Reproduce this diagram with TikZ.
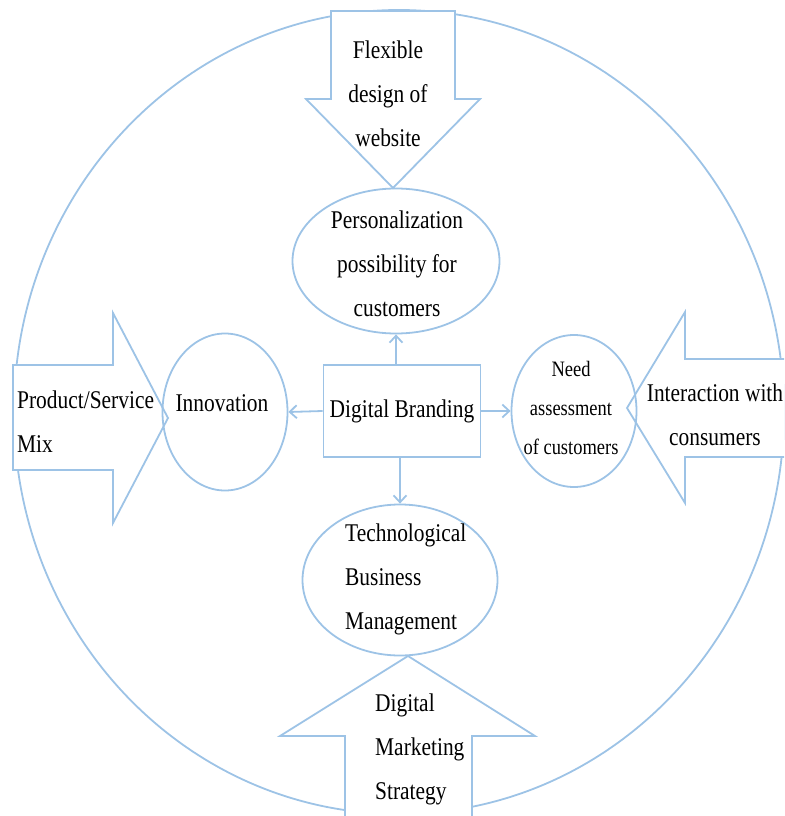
\documentclass[tikz,border=0pt]{standalone}
\usepackage{fontspec}
\setmainfont{Liberation Serif}[FakeStretch=0.84]
\usetikzlibrary{shapes.geometric,arrows.meta}
\definecolor{lineblue}{RGB}{157,195,230}

\begin{document}
\begin{tikzpicture}
    [ x = 1pt, y = -1pt
    , outline/.style =
      { draw = lineblue, line width = 1.8pt }
    , bubble/.style =
      { outline, ellipse, inner sep = 0pt }
    , hub/.style =
      { outline, rectangle, fill = white, inner sep = 0pt
      , minimum width = 157pt, minimum height = 92pt
      , font = \fontsize{25.5}{44}\selectfont }
    , blockarrow/.style =
      { outline, fill = white, line join = miter }
    , link/.style =
      { outline, -{Straight Barb[length=7pt, width=13pt]} }
    , txt/.style =
      { inner sep = 0pt, align = center, font = \fontsize{25.5}{44}\selectfont }
    , small/.style =
      { txt, font = \fontsize{22}{39}\selectfont }
    ]
    \useasboundingbox (0,0) rectangle (784,816);
    \clip (0,0) rectangle (784,816);

    % outer ring
    \draw [outline] (399,412) ellipse [x radius = 385, y radius = 402];

    % block arrows pointing inwards
    \draw [blockarrow] (331,11) -- (455,11) -- (455,99) -- (480,99)
      -- (393,188) -- (306,99) -- (331,99) -- cycle;
    \draw [blockarrow] (13,365) -- (113,365) -- (113,313) -- (168,418)
      -- (113,523) -- (113,470) -- (13,470) -- cycle;
    \draw [blockarrow] (800,359) -- (685,359) -- (685,312) -- (627,408)
      -- (685,503) -- (685,457) -- (800,457) -- cycle;
    \draw [blockarrow] (408,656) -- (535,736) -- (472,736) -- (472,830)
      -- (345,830) -- (345,736) -- (280,736) -- cycle;

    % inner bubbles and the hub
    \node [bubble, minimum width = 207pt, minimum height = 145pt] (pers) at (396,261) {};
    \node [bubble, minimum width = 125pt, minimum height = 157pt] (inno) at (225,412) {};
    \node [bubble, minimum width = 125pt, minimum height = 152pt] (need) at (574,411) {};
    \node [bubble, minimum width = 195pt, minimum height = 151pt] (tech) at (400,580) {};
    \node [hub] (brand) at (402,411) {Digital Branding};

    \draw [link] (brand.north -| pers.south) -- (pers.south);
    \draw [link] (brand.west) -- (inno.east);
    \draw [link] (brand.east) -- (need.west);
    \draw [link] (brand.south -| tech.north) -- (tech.north);

    % labels
    \node [txt] (flex) at (388,94) {Flexible\\design of\\website};
    \node [txt, anchor = west, align = left] (mix) at (17,422) {Product/Service\\Mix};
    \node [txt] (inter) at (715,415) {Interaction with\\consumers};
    \node [txt, anchor = west, align = left] (dms) at (375,749) {Digital\\Marketing\\Strategy};
    \node [txt] (perstxt) at (397,264) {Personalization\\possibility for\\customers};
    \node [txt] (innotxt) at (222,403) {Innovation};
    \node [small] (needtxt) at (571,408) {Need\\assessment\\of customers};
    \node [txt, anchor = west, align = left] (techtxt) at (345,579) {Technological\\Business\\Management};
\end{tikzpicture}
\end{document}
